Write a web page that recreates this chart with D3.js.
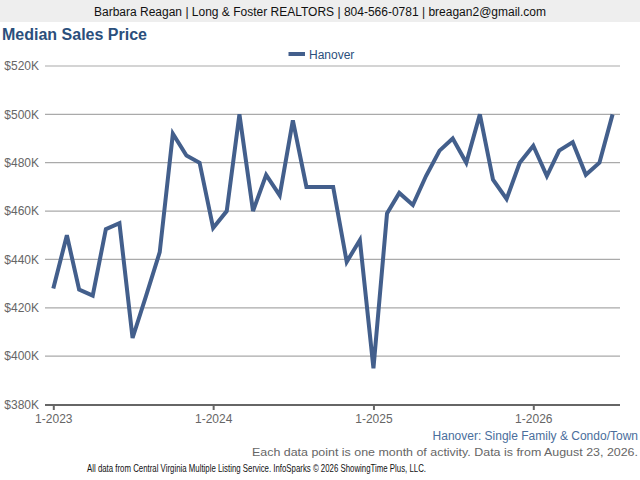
<!DOCTYPE html>
<html><head><meta charset="utf-8">
<script src="https://cdn.jsdelivr.net/npm/d3@7"></script>
<style>body{margin:0;background:#fff;}svg{display:block;font-family:"Liberation Sans",Arial,sans-serif;}</style>
</head><body>
<svg id="c" width="640" height="480"></svg>
<script>
const months = ["2023-01","2023-02","2023-03","2023-04","2023-05","2023-06","2023-07","2023-08","2023-09","2023-10","2023-11","2023-12",
"2024-01","2024-02","2024-03","2024-04","2024-05","2024-06","2024-07","2024-08","2024-09","2024-10","2024-11","2024-12",
"2025-01","2025-02","2025-03","2025-04","2025-05","2025-06","2025-07","2025-08","2025-09","2025-10","2025-11","2025-12",
"2026-01","2026-02","2026-03","2026-04","2026-05","2026-06","2026-07"];
const hanover = [428,450,427.5,425,452.5,455,407.5,425,443,492,483,480,
453,460,500,460,475,466.5,497.5,470,470,470,439,448,
395,459,467.5,462.5,474.5,485,490,480,500,473,465,480,
487,474.5,485,488.5,475,480,500];
const yTicks = [380000,400000,420000,440000,460000,480000,500000,520000];
const xTickLabels = ["1-2023","1-2024","1-2025","1-2026"];
const xTickDates = ["2023-01","2024-01","2025-01","2026-01"];

const svg = d3.select("#c");
const parse = d3.timeParse("%Y-%m");
const data = months.map((m,i)=>({d:parse(m), v:hanover[i]*1000}));

// header
svg.append("rect").attr("x",0).attr("y",0).attr("width",640).attr("height",22).attr("fill","#eeeeee");
svg.append("text").attr("x",320).attr("y",15.5).attr("text-anchor","middle").attr("font-size",12).attr("fill","#111")
  .text("Barbara Reagan | Long & Foster REALTORS | 804-566-0781 | breagan2@gmail.com");
svg.append("text").attr("x",2).attr("y",40).attr("font-size",16).attr("font-weight","bold").attr("fill","#2b4f7c")
  .text("Median Sales Price");

const x = d3.scaleTime().domain([parse("2023-01"), parse("2026-01")]).range([53.3, 533.3]);
const y = d3.scaleLinear().domain([380000,520000]).range([404.5,66]);

// grid
svg.append("g").selectAll("line").data(yTicks.slice(1)).join("line")
  .attr("x1",45).attr("x2",620).attr("y1",d=>y(d)).attr("y2",d=>y(d))
  .attr("stroke","#aaaaaa").attr("stroke-width",1.2);

// y labels
const ya = svg.append("g").attr("transform","translate(45,0)")
  .call(d3.axisLeft(y).tickValues(yTicks).tickSize(0).tickPadding(6).tickFormat(d=>"$"+(d/1000)+"K"));
ya.select(".domain").remove();
ya.selectAll("text").attr("font-size",12).attr("fill","#666").attr("font-family","Liberation Sans, Arial, sans-serif");

// x axis
const xa = svg.append("g").attr("transform","translate(0,405)")
  .call(d3.axisBottom(x).tickValues(xTickDates.map(parse)).tickSize(5).tickPadding(4)
    .tickFormat((d,i)=>xTickLabels[i]));
xa.select(".domain").remove();
xa.selectAll(".tick line").attr("stroke","#666").attr("stroke-width",2);
xa.selectAll("text").attr("font-size",12).attr("fill","#666").attr("font-family","Liberation Sans, Arial, sans-serif");
svg.append("line").attr("x1",45).attr("x2",620).attr("y1",405).attr("y2",405).attr("stroke","#666").attr("stroke-width",2);

// line
svg.append("path").datum(data)
  .attr("d", d3.line().x(d=>x(d.d)).y(d=>y(d.v)))
  .attr("fill","none").attr("stroke","#435f8c").attr("stroke-width",4).attr("stroke-linejoin","miter");

// legend
svg.append("line").attr("x1",288.5).attr("x2",305).attr("y1",54).attr("y2",54).attr("stroke","#435f8c").attr("stroke-width",4);
svg.append("text").attr("x",309).attr("y",58.5).attr("font-size",12).attr("fill","#2b4f7c").text("Hanover");

// footers
svg.append("text").attr("x",638).attr("y",440).attr("text-anchor","end").attr("font-size",12).attr("fill","#4a6e9c")
  .text("Hanover: Single Family & Condo/Town");
svg.append("text").attr("x",638).attr("y",456).attr("text-anchor","end").attr("font-size",11.5).attr("fill","#666")
  .attr("textLength",386).attr("lengthAdjust","spacingAndGlyphs")
  .text("Each data point is one month of activity. Data is from August 23, 2026.");
svg.append("text").attr("x",256.5).attr("y",472).attr("text-anchor","middle").attr("font-size",10.5).attr("fill","#111")
  .attr("textLength",339).attr("lengthAdjust","spacingAndGlyphs")
  .text("All data from Central Virginia Multiple Listing Service. InfoSparks © 2026 ShowingTime Plus, LLC.");
</script>
</body></html>
